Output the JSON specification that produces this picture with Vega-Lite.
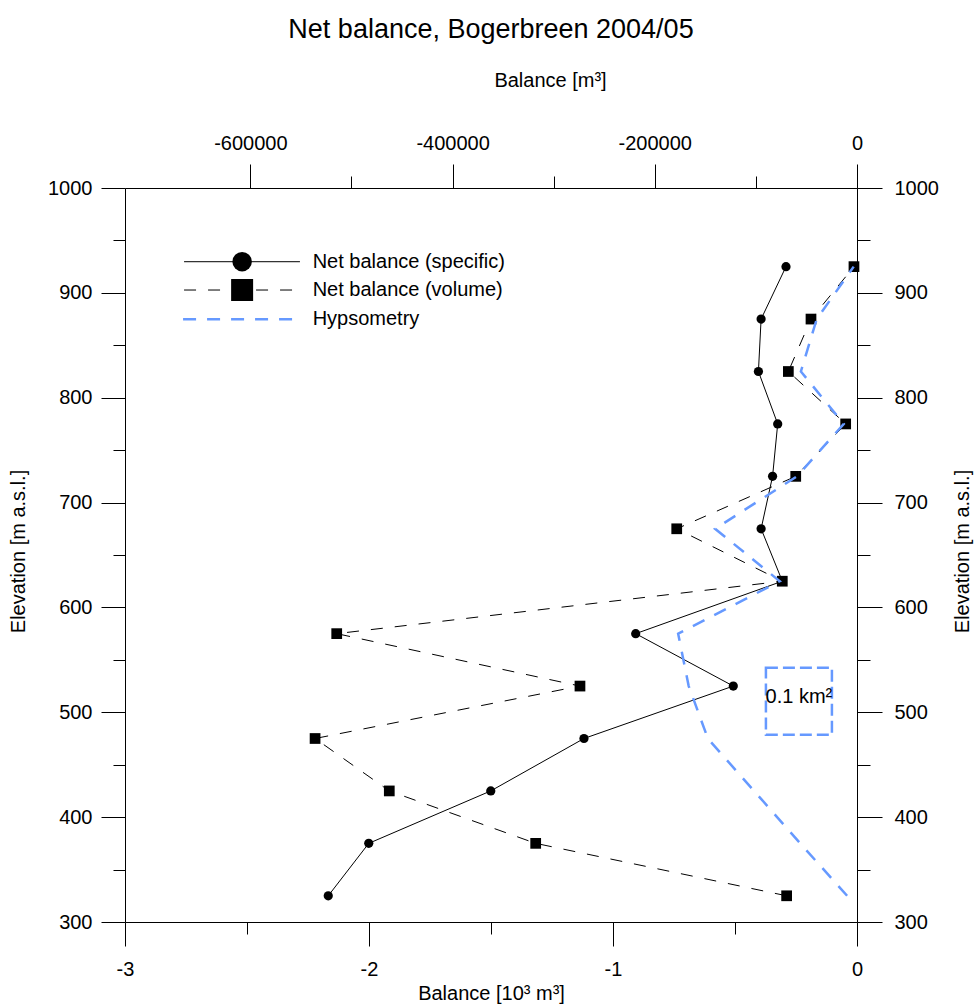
{
  "$schema": "https://vega.github.io/schema/vega-lite/v6.json",
  "width": 732,
  "height": 734,
  "autosize": "none",
  "padding": {"left": 125, "top": 188, "right": 118, "bottom": 83},
  "background": "white",
  "title": {"text": "Net balance, Bogerbreen 2004/05", "font": "Liberation Sans", "fontSize": 27, "fontWeight": "normal", "color": "black", "anchor": "middle", "offset": 26},
  "config": {
    "view": {"stroke": null},
    "axis": {"labelFont": "Liberation Sans", "labelFontSize": 20, "labelColor": "black", "titleFont": "Liberation Sans", "titleFontSize": 20, "titleFontWeight": "normal", "titleColor": "black", "tickColor": "black", "domainColor": "black", "tickWidth": 1, "domainWidth": 1, "grid": false, "labelFlush": false, "labelOverlap": false, "labelBound": false},
    "text": {"font": "Liberation Sans"}
  },
  "data": {"values": [
    {"elev": 925, "specific": -0.291, "volume": -3000, "hyps": 0.005},
    {"elev": 875, "specific": -0.393, "volume": -45500, "hyps": 0.061},
    {"elev": 825, "specific": -0.404, "volume": -67900, "hyps": 0.085},
    {"elev": 775, "specific": -0.325, "volume": -11200, "hyps": 0.020},
    {"elev": 725, "specific": -0.346, "volume": -60600, "hyps": 0.091},
    {"elev": 675, "specific": -0.393, "volume": -178300, "hyps": 0.215},
    {"elev": 625, "specific": -0.306, "volume": -73900, "hyps": 0.117},
    {"elev": 575, "specific": -0.907, "volume": -514600, "hyps": 0.271},
    {"elev": 525, "specific": -0.507, "volume": -274000, "hyps": 0.255},
    {"elev": 475, "specific": -1.119, "volume": -536000, "hyps": 0.226},
    {"elev": 425, "specific": -1.501, "volume": -462600, "hyps": 0.156},
    {"elev": 375, "specific": -2.001, "volume": -317800, "hyps": 0.086},
    {"elev": 325, "specific": -2.167, "volume": -69600, "hyps": 0.015}
  ]},
  "resolve": {"scale": {"x": "independent", "y": "independent"}},
  "layer": [
    {
      "layer": [
        {
          "mark": {"type": "line", "color": "black", "strokeWidth": 1},
          "encoding": {
            "x": {"field": "specific", "type": "quantitative", "scale": {"domain": [-3, 0], "nice": false, "zero": false},
              "axis": {"orient": "bottom", "values": [-3, -2, -1, 0], "tickSize": 24, "labelPadding": 13, "labelExpr": "'' + datum.value", "title": "Balance [10³ m³]", "titleX": 366, "titleY": 71, "titleBaseline": "middle", "titleAlign": "center"}},
            "y": {"field": "elev", "type": "quantitative", "scale": {"domain": [300, 1000], "nice": false, "zero": false},
              "axis": {"orient": "left", "values": [300, 400, 500, 600, 700, 800, 900, 1000], "tickSize": 24, "labelPadding": 9, "labelExpr": "'' + datum.value", "title": "Elevation [m a.s.l.]", "titleX": -107, "titleY": 363, "titleAngle": 270, "titleBaseline": "middle", "titleAlign": "center"}},
            "order": {"field": "elev", "type": "quantitative"}
          }
        },
        {
          "mark": {"type": "point", "shape": "circle", "filled": true, "size": 85, "color": "black", "opacity": 1},
          "encoding": {
            "x": {"field": "specific", "type": "quantitative", "scale": {"domain": [-3, 0], "nice": false, "zero": false}},
            "y": {"field": "elev", "type": "quantitative", "scale": {"domain": [300, 1000], "nice": false, "zero": false}}
          }
        },
        {
          "data": {"values": [{}]},
          "mark": {"type": "rule", "color": "black", "strokeWidth": 1},
          "encoding": {
            "x": {"datum": -2.758, "type": "quantitative", "scale": {"domain": [-3, 0], "nice": false, "zero": false}},
            "x2": {"datum": -2.283},
            "y": {"datum": 929.7, "type": "quantitative", "scale": {"domain": [300, 1000], "nice": false, "zero": false}}
          }
        },
        {
          "data": {"values": [{}]},
          "mark": {"type": "point", "shape": "circle", "filled": true, "size": 380, "color": "black", "opacity": 1},
          "encoding": {
            "x": {"datum": -2.52, "type": "quantitative", "scale": {"domain": [-3, 0], "nice": false, "zero": false}},
            "y": {"datum": 929.7, "type": "quantitative", "scale": {"domain": [300, 1000], "nice": false, "zero": false}}
          }
        },
        {
          "data": {"values": [{}]},
          "mark": {"type": "rule", "color": "black", "strokeWidth": 1, "strokeDash": [12, 12]},
          "encoding": {
            "x": {"datum": -2.758, "type": "quantitative", "scale": {"domain": [-3, 0], "nice": false, "zero": false}},
            "x2": {"datum": -2.283},
            "y": {"datum": 902.7, "type": "quantitative", "scale": {"domain": [300, 1000], "nice": false, "zero": false}}
          }
        },
        {
          "data": {"values": [{}]},
          "mark": {"type": "point", "shape": "square", "filled": true, "size": 484, "color": "black", "opacity": 1},
          "encoding": {
            "x": {"datum": -2.52, "type": "quantitative", "scale": {"domain": [-3, 0], "nice": false, "zero": false}},
            "y": {"datum": 902.7, "type": "quantitative", "scale": {"domain": [300, 1000], "nice": false, "zero": false}}
          }
        },
        {
          "data": {"values": [{}]},
          "mark": {"type": "rule", "color": "#6699ff", "strokeWidth": 2.5, "strokeDash": [13, 11]},
          "encoding": {
            "x": {"datum": -2.762, "type": "quantitative", "scale": {"domain": [-3, 0], "nice": false, "zero": false}},
            "x2": {"datum": -2.30},
            "y": {"datum": 874.8, "type": "quantitative", "scale": {"domain": [300, 1000], "nice": false, "zero": false}}
          }
        },
        {
          "data": {"values": [{}]},
          "mark": {"type": "text", "text": "Net balance (specific)", "fontSize": 20, "align": "left", "baseline": "middle", "color": "black"},
          "encoding": {
            "x": {"datum": -2.231, "type": "quantitative", "scale": {"domain": [-3, 0], "nice": false, "zero": false}},
            "y": {"datum": 929.7, "type": "quantitative", "scale": {"domain": [300, 1000], "nice": false, "zero": false}}
          }
        },
        {
          "data": {"values": [{}]},
          "mark": {"type": "text", "text": "Net balance (volume)", "fontSize": 20, "align": "left", "baseline": "middle", "color": "black"},
          "encoding": {
            "x": {"datum": -2.231, "type": "quantitative", "scale": {"domain": [-3, 0], "nice": false, "zero": false}},
            "y": {"datum": 902.7, "type": "quantitative", "scale": {"domain": [300, 1000], "nice": false, "zero": false}}
          }
        },
        {
          "data": {"values": [{}]},
          "mark": {"type": "text", "text": "Hypsometry", "fontSize": 20, "align": "left", "baseline": "middle", "color": "black"},
          "encoding": {
            "x": {"datum": -2.231, "type": "quantitative", "scale": {"domain": [-3, 0], "nice": false, "zero": false}},
            "y": {"datum": 874.8, "type": "quantitative", "scale": {"domain": [300, 1000], "nice": false, "zero": false}}
          }
        }
      ]
    },
    {
      "layer": [
        {
          "mark": {"type": "line", "color": "black", "strokeWidth": 1, "strokeDash": [12, 12]},
          "encoding": {
            "x": {"field": "volume", "type": "quantitative", "scale": {"domain": [-724000, 0], "nice": false, "zero": false},
              "axis": {"orient": "top", "values": [-600000, -400000, -200000, 0], "tickSize": 24, "labelPadding": 11, "labelExpr": "'' + datum.value", "title": "Balance [m³]", "titleX": 425, "titleY": -108, "titleBaseline": "middle", "titleAlign": "center"}},
            "y": {"field": "elev", "type": "quantitative", "scale": {"domain": [300, 1000], "nice": false, "zero": false},
              "axis": {"orient": "right", "values": [300, 400, 500, 600, 700, 800, 900, 1000], "tickSize": 25, "labelPadding": 12, "labelExpr": "'' + datum.value", "title": "Elevation [m a.s.l.]", "titleX": 105, "titleY": 363, "titleAngle": 270, "titleBaseline": "middle", "titleAlign": "center"}},
            "order": {"field": "elev", "type": "quantitative"}
          }
        },
        {
          "mark": {"type": "point", "shape": "square", "filled": true, "size": 115, "color": "black", "opacity": 1},
          "encoding": {
            "x": {"field": "volume", "type": "quantitative", "scale": {"domain": [-724000, 0], "nice": false, "zero": false}},
            "y": {"field": "elev", "type": "quantitative", "scale": {"domain": [300, 1000], "nice": false, "zero": false}}
          }
        }
      ]
    },
    {
      "layer": [
        {
          "mark": {"type": "line", "color": "#6699ff", "strokeWidth": 2.5, "strokeDash": [13, 11]},
          "encoding": {
            "x": {"field": "hyps", "type": "quantitative", "scale": {"domain": [0, 1.10909], "reverse": true, "nice": false, "zero": false}, "axis": null},
            "y": {"field": "elev", "type": "quantitative", "scale": {"domain": [300, 1000], "nice": false, "zero": false}, "axis": null},
            "order": {"field": "elev", "type": "quantitative"}
          }
        },
        {
          "data": {"values": [{}]},
          "mark": {"type": "rect", "fillOpacity": 0, "stroke": "#6699ff", "strokeWidth": 2.5, "strokeDash": [12, 5]},
          "encoding": {
            "x": {"datum": 0.038, "type": "quantitative", "scale": {"domain": [0, 1.10909], "reverse": true, "nice": false, "zero": false}, "axis": null},
            "x2": {"datum": 0.138},
            "y": {"datum": 542.4, "type": "quantitative", "scale": {"domain": [300, 1000], "nice": false, "zero": false}, "axis": null},
            "y2": {"datum": 478.6}
          }
        },
        {
          "data": {"values": [{}]},
          "mark": {"type": "text", "text": "0.1 km²", "fontSize": 20, "align": "center", "baseline": "middle", "color": "black"},
          "encoding": {
            "x": {"datum": 0.088, "type": "quantitative", "scale": {"domain": [0, 1.10909], "reverse": true, "nice": false, "zero": false}, "axis": null},
            "y": {"datum": 514.9, "type": "quantitative", "scale": {"domain": [300, 1000], "nice": false, "zero": false}, "axis": null}
          }
        }
      ]
    },
    {
      "mark": {"type": "point", "opacity": 0},
      "encoding": {
        "x": {"field": "specific", "type": "quantitative", "scale": {"domain": [-3, 0], "nice": false, "zero": false},
          "axis": {"orient": "bottom", "values": [-2.5, -1.5, -0.5], "tickSize": 12, "labels": false, "domain": false, "title": null}},
        "y": {"field": "elev", "type": "quantitative", "scale": {"domain": [300, 1000], "nice": false, "zero": false},
          "axis": {"orient": "left", "values": [350, 450, 550, 650, 750, 850, 950], "tickSize": 12, "labels": false, "domain": false, "title": null}}
      }
    },
    {
      "mark": {"type": "point", "opacity": 0},
      "encoding": {
        "x": {"field": "volume", "type": "quantitative", "scale": {"domain": [-724000, 0], "nice": false, "zero": false},
          "axis": {"orient": "top", "values": [-500000, -300000, -100000], "tickSize": 12, "labels": false, "domain": false, "title": null}},
        "y": {"field": "elev", "type": "quantitative", "scale": {"domain": [300, 1000], "nice": false, "zero": false},
          "axis": {"orient": "right", "values": [350, 450, 550, 650, 750, 850, 950], "tickSize": 13, "labels": false, "domain": false, "title": null}}
      }
    }
  ]
}
